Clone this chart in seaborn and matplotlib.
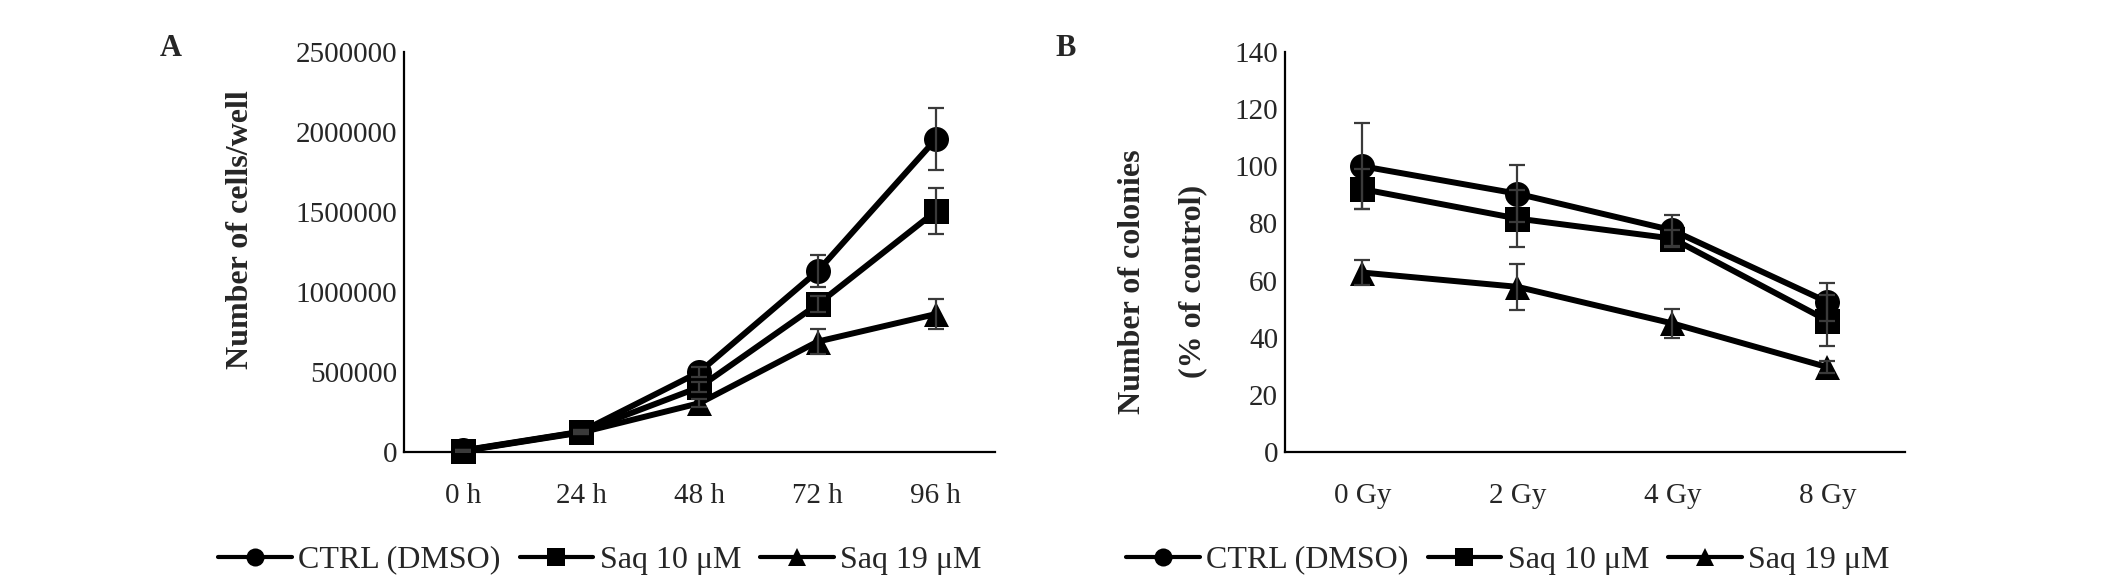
import pandas as pd
import matplotlib.pyplot as plt
import seaborn as sns
from matplotlib.lines import Line2D
from matplotlib.ticker import StrMethodFormatter

# Datos: panel A (proliferación)
times = ['0 h', '24 h', '48 h', '72 h', '96 h']
ctrl_cells = [10000, 127000, 500000, 1130000, 1955000]
ctrl_cells_err = [5000, 10000, 30000, 100000, 195000]
saq10_cells = [8000, 125000, 405000, 923000, 1505000]
saq10_cells_err = [5000, 10000, 30000, 50000, 145000]
saq19_cells = [6000, 122000, 305000, 690000, 862000]
saq19_cells_err = [5000, 10000, 25000, 80000, 95000]

# Datos: panel B (colonias)
doses = ['0 Gy', '2 Gy', '4 Gy', '8 Gy']
ctrl_col = [100, 90.4, 77.6, 52.5]
ctrl_col_err = [15, 10, 5.5, 6.5]
saq10_col = [92, 81.7, 74.7, 46]
saq10_col_err = [7, 10, 3, 9]
saq19_col = [62.8, 57.8, 45, 29.7]
saq19_col_err = [4.5, 8, 5, 2]

groups = ['CTRL (DMSO)', 'Saq 10 \u03bcM', 'Saq 19 \u03bcM']
markers = {'CTRL (DMSO)': 'o', 'Saq 10 \u03bcM': 's', 'Saq 19 \u03bcM': '^'}

sns.set_style('white')
plt.rcParams['font.family'] = ['Liberation Serif', 'DejaVu Serif']


def long_df(labels, series):
    rows = []
    for g, vals in zip(groups, series):
        for i, v in enumerate(vals):
            rows.append({'pos': i, 'value': v, 'group': g})
    return pd.DataFrame(rows)


def panel(ax, labels, series, errs, ymax, ystep):
    df = long_df(labels, series)
    sns.lineplot(data=df, x='pos', y='value', hue='group', style='group',
                 markers=markers, dashes=False,
                 palette={g: 'black' for g in groups},
                 lw=4.3, markersize=18, markeredgewidth=0,
                 errorbar=None, legend=False, ax=ax, zorder=2, clip_on=False)
    for vals, e in zip(series, errs):
        ax.errorbar(range(len(labels)), vals, yerr=e, fmt='none',
                    ecolor='#3a3a3a', elinewidth=1.6, capsize=6,
                    capthick=1.6, zorder=3)
    ax.set_xlim(-0.5, len(labels) - 0.5)
    ax.set_ylim(0, ymax)
    ax.set_yticks(range(0, ymax + 1, ystep))
    ax.yaxis.set_major_formatter(StrMethodFormatter('{x:.0f}'))
    ax.set_xticks(range(len(labels)))
    ax.set_xticklabels(labels)
    ax.set_xlabel('')
    ax.set_ylabel('')
    ax.tick_params(axis='both', length=0, labelsize=21)
    ax.tick_params(axis='x', pad=22)
    ax.tick_params(axis='y', pad=5)
    for s in ['top', 'right']:
        ax.spines[s].set_visible(False)
    for s in ['left', 'bottom']:
        ax.spines[s].set_linewidth(1.6)
        ax.spines[s].set_color('black')
        ax.spines[s].set_zorder(1)
    ax.patch.set_alpha(0)


fig = plt.figure(figsize=(21.26, 5.88), dpi=100)
axA = fig.add_axes([0.1900, 0.2313, 0.2780, 0.6803])
axB = fig.add_axes([0.6044, 0.2313, 0.2916, 0.6803])

panel(axA, times, [ctrl_cells, saq10_cells, saq19_cells],
      [ctrl_cells_err, saq10_cells_err, saq19_cells_err], 2500000, 500000)
panel(axB, doses, [ctrl_col, saq10_col, saq19_col],
      [ctrl_col_err, saq10_col_err, saq19_col_err], 140, 20)

# Etiquetas de los ejes
fig.text(240 / 2126, 1 - 230 / 588, 'Number of cells/well', rotation=90,
         ha='center', va='center', fontsize=23, fontweight='bold')
fig.text(1132 / 2126, 1 - 282 / 588, 'Number of colonies', rotation=90,
         ha='center', va='center', fontsize=23, fontweight='bold')
fig.text(1193 / 2126, 1 - 281 / 588, '(% of control)', rotation=90,
         ha='center', va='center', fontsize=23, fontweight='bold')

# Letras de panel
fig.text(171 / 2126, 1 - 49 / 588, 'A', ha='center', va='center',
         fontsize=22, fontweight='bold')
fig.text(1066 / 2126, 1 - 49 / 588, 'B', ha='center', va='center',
         fontsize=22, fontweight='bold')

# Leyendas
handles = [Line2D([], [], color='black', lw=3, marker=markers[g],
                  markersize=13, markeredgewidth=0) for g in groups]
for ax, cx in [(axA, 600 / 2126), (axB, 1508 / 2126)]:
    ax.legend(handles, groups, loc='center', bbox_to_anchor=(cx, 1 - 560 / 588),
              bbox_transform=fig.transFigure, ncol=3, frameon=False,
              fontsize=23, handlelength=2.3, handletextpad=0.2,
              columnspacing=0.6)

plt.savefig('out.png', dpi=100)
